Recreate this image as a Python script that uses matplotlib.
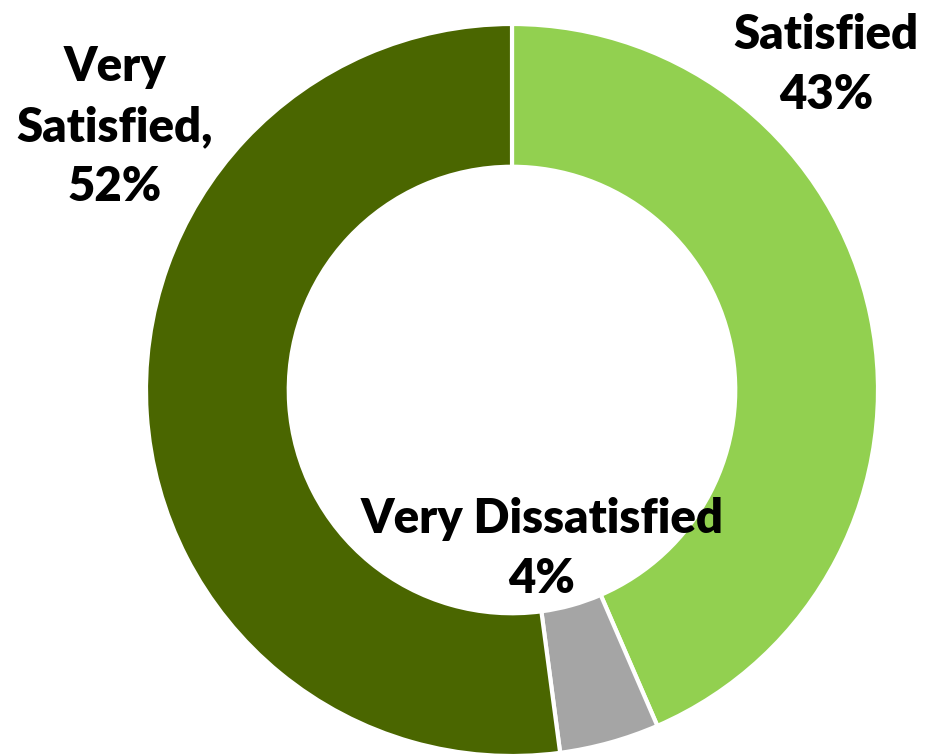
import matplotlib.pyplot as plt

labels = ['Satisfied', 'Very Dissatisfied', 'Very Satisfied']
values = [43.5, 4.4, 52.1]
label_text = ['Satisfied\n43%', 'Very Dissatisfied\n4%', 'Very\nSatisfied,\n52%']
colors = ['#92D050', '#A5A5A5', '#4A6600']

fig = plt.figure(figsize=(9.25, 7.56), dpi=100)
ax = fig.add_axes([146 / 925, 0, 732 / 925, 732 / 756])

ax.pie(values, colors=colors, startangle=90, counterclock=False, radius=1,
       wedgeprops=dict(width=0.39, edgecolor='white', linewidth=3))
ax.set_xlim(-1, 1)
ax.set_ylim(-1, 1)
ax.set_aspect('equal')
ax.axis('off')

# label positions in pixels (x, y from top)
label_pos = [(826, 65), (542, 549), (115, 127)]
for txt, (px, py) in zip(label_text, label_pos):
    fig.text(px / 925, 1 - py / 756, txt, ha='center', va='center',
             fontsize=34, fontweight='heavy', family='Lato', linespacing=1.45)

fig.savefig('out.png', dpi=100)
